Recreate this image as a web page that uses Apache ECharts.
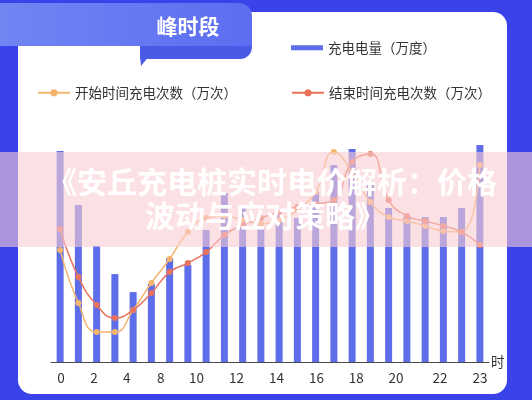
<!DOCTYPE html>
<html>
<head>
<meta charset="utf-8">
<script src="https://cdn.jsdelivr.net/npm/echarts@6/dist/echarts.min.js"></script>
<style>html,body{margin:0;padding:0;background:#3a43e9;}#c{width:532px;height:400px;}</style>
</head>
<body>
<div id="c"></div>
<script>
// ---- data ----
const hours = ['0','1','2','3','4','5','6','7','8','9','10','11','12','13','14','15','16','17','18','19','20','21','22','23'];
const energy = [95.0, 70.7, 52.3, 39.6, 31.5, 35.1, 46.8, 43.7, 59.5, 76.1, 69.4, 60.4, 66.2, 64.9, 76.6, 88.7, 95.9, 79.7, 69.4, 65.3, 65.3, 65.3, 69.4, 97.7];
const startCount = [50.5, 26.6, 13.5, 13.5, 23.4, 35.6, 46.4, 58.6, 64.9, 65.8, 64.0, 62.2, 64.0, 68.5, 76.6, 94.6, 85.6, 72.1, 65.3, 63.5, 61.3, 59.0, 58.6, 88.7];
const endCount = [59.9, 38.3, 25.7, 19.8, 23.4, 31.1, 40.5, 44.6, 49.5, 57.2, 61.7, 64.9, 67.6, 69.8, 71.2, 73.0, 90.1, 93.7, 73.0, 65.8, 63.5, 61.3, 58.6, 52.7];
const tickLabels = ['0','2','4','8','10','12','14','16','18','20','22','23'];
const tickPos = [0.05, 1.86, 3.65, 5.51, 7.47, 9.66, 11.86, 14.05, 16.22, 18.41, 20.81, 23.0];
const seriesNames = ['充电电量（万度）', '开始时间充电次数（万次）', '结束时间充电次数（万次）'];
const tabTitle = '峰时段';
const unitName = '时';
const overlayLines = ['《安丘充电桩实时电价解析：价格', '波动与应对策略》'];

const FONT = '"Noto Sans CJK SC", "Noto Sans", sans-serif';
const BLUE = '#5e6de9', ORANGE = '#f4b46c', RED = '#e8735c';

const chart = echarts.init(document.getElementById('c'));
const legendText = {fontSize: 13.5, color: '#333', fontFamily: FONT};
chart.setOption({
  backgroundColor: '#3a43e9',
  animation: false,
  textStyle: {fontFamily: FONT},
  graphic: [
    {type: 'rect', z: -20, shape: {x: 18, y: 12, width: 489, height: 382, r: 14}, style: {fill: '#ffffff'}},
    {type: 'rect', z: -15, shape: {x: 140, y: 36, width: 112, height: 23, r: [0, 0, 12, 0]}, style: {fill: '#4b5ae6'}},
    {type: 'polygon', z: -15, shape: {points: [[140, 56], [149, 56], [141, 66]]}, style: {fill: '#4b5ae6'}},
    {type: 'rect', z: -14, shape: {x: -10, y: 3, width: 262, height: 43, r: [0, 13, 0, 0]},
      style: {fill: new echarts.graphic.LinearGradient(0, 0, 1, 0, [{offset: 0, color: '#7386f3'}, {offset: 1, color: '#5c6df0'}])}},
    {type: 'text', z: -13, style: {text: tabTitle, x: 188, y: 26, align: 'center', verticalAlign: 'middle', fill: '#ffffff', font: 'bold 21px ' + FONT}},
    {type: 'rect', z: 100, shape: {x: 0, y: 152, width: 532, height: 95}, style: {fill: 'rgba(250,205,210,0.6)'}},
    {type: 'text', z: 101, style: {text: overlayLines[0], x: 272, y: 182, align: 'center', verticalAlign: 'middle', fill: '#ffffff', font: 'bold 30px ' + FONT}},
    {type: 'text', z: 101, style: {text: overlayLines[1], x: 265, y: 216, align: 'center', verticalAlign: 'middle', fill: '#ffffff', font: 'bold 30px ' + FONT}}
  ],
  legend: [
    {data: [seriesNames[0]], left: 286, top: 36, icon: 'rect', itemWidth: 32, itemHeight: 5, textStyle: legendText},
    {data: [seriesNames[1]], left: 32, top: 81, itemWidth: 32, itemHeight: 9, textStyle: legendText},
    {data: [seriesNames[2]], left: 286, top: 81, itemWidth: 32, itemHeight: 9, textStyle: legendText}
  ],
  grid: {left: 51, right: 43, top: 140, bottom: 38},
  xAxis: [
    {type: 'category', data: hours, boundaryGap: true,
      axisLine: {lineStyle: {color: '#4a4a4a', width: 1}}, axisTick: {show: false}, axisLabel: {show: false}},
    {type: 'value', min: -0.5, max: 23.5, position: 'bottom',
      axisLine: {show: false}, axisTick: {show: false}, splitLine: {show: false},
      name: unitName, nameLocation: 'end', nameGap: 2,
      nameTextStyle: {fontSize: 13.5, color: '#333', verticalAlign: 'middle', padding: [0, 0, 4, 0]},
      axisLabel: {customValues: tickPos, margin: 9, fontSize: 13.5, color: '#333',
        formatter: function (v) {
          let best = 0;
          for (let i = 1; i < tickPos.length; i++) if (Math.abs(tickPos[i] - v) < Math.abs(tickPos[best] - v)) best = i;
          return tickLabels[best];
        }}}
  ],
  yAxis: {type: 'value', min: 0, max: 100, show: false, splitLine: {show: false}},
  series: [
    {name: seriesNames[0], type: 'bar', data: energy, barWidth: 7, itemStyle: {color: BLUE}},
    {name: seriesNames[1], type: 'line', data: startCount, smooth: 0.5, symbol: 'circle', symbolSize: 6,
      lineStyle: {width: 1.5, color: ORANGE}, itemStyle: {color: ORANGE}, z: 3},
    {name: seriesNames[2], type: 'line', data: endCount, smooth: 0.5, symbol: 'circle', symbolSize: 6,
      lineStyle: {width: 1.5, color: RED}, itemStyle: {color: RED}, z: 3}
  ]
});
</script>
</body>
</html>
